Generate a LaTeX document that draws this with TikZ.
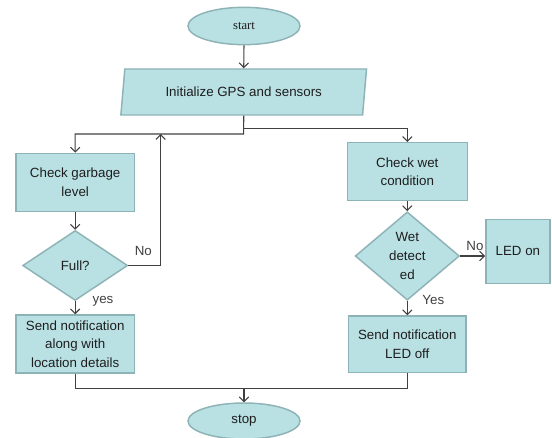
\documentclass[tikz,border=0pt]{standalone}
\usepackage{fontspec}
\setmainfont{Liberation Sans}
\newfontfamily\serifstart{Liberation Serif}
\usetikzlibrary{shapes.geometric,arrows.meta}
\definecolor{boxfill}{HTML}{B9E0E3}
\definecolor{boxline}{HTML}{8DB3B6}
\definecolor{conn}{HTML}{404040}
\definecolor{txt}{HTML}{1E1E1E}
\begin{document}
\begin{tikzpicture}[x=0.75pt,y=-0.75pt,
  every node/.style={text=txt,font=\fontsize{10}{14}\selectfont,align=center,inner sep=1pt},
  base/.style={draw=boxline,fill=boxfill,line width=1.1pt},
  procbox/.style={base,rectangle},
  termin/.style={base,ellipse,minimum width=84pt,minimum height=28pt},
  decide/.style={base,diamond},
  iobox/.style={base,trapezium,trapezium stretches=true,trapezium left angle=78,trapezium right angle=102},
  conline/.style={draw=conn,line width=0.8pt},
  arr/.style={conline,-{Straight Barb[length=3.5pt,width=7pt]}},
  lbl/.style={text=conn,font=\fontsize{10}{12}\selectfont}
]
\useasboundingbox (0,0) rectangle (552,438);

\node[termin,font=\serifstart\fontsize{9.5}{11}\selectfont] (start) at (244,26) {start};
\node[iobox,minimum width=184.5pt,minimum height=34.5pt] (init) at (243.7,92) {Initialize GPS and sensors};
\node[procbox,minimum width=88.7pt,minimum height=43.8pt] (garb) at (75.2,182.5) {Check garbage\\level};
\node[decide,minimum width=78.75pt,minimum height=52.5pt] (full) at (75.2,265.5) {Full?};
\node[procbox,minimum width=88.7pt,minimum height=43.3pt] (notif1) at (75.2,343.9) {Send notification\\along with\\location details};
\node[procbox,minimum width=90pt,minimum height=43.5pt] (wet) at (407.3,171.7) {Check wet\\condition};
\node[decide,minimum width=78.2pt,minimum height=53.8pt] (wetd) at (407.3,256) {Wet\\detect\\ed};
\node[procbox,minimum width=48.2pt,minimum height=48pt] (led) at (517.9,251.3) {LED on};
\node[procbox,minimum width=88.3pt,minimum height=42.5pt] (notif2) at (407.3,344.3) {Send notification\\LED off};
\node[termin,minimum height=27pt] (stop) at (244,421) {stop};

\coordinate (lj) at (243.7,134);
\coordinate (rj) at (243.7,128.3);
\coordinate (nl) at (160.7,134);
\coordinate (bj) at (244,388.3);

\draw[arr] (start.south) -- (init.north);
\draw[arr] (init.south) -- (lj) -| (garb.north);
\draw[arr] (rj) -| (wet.north);
\draw[arr] (garb.south) -- (full.north);
\draw[arr] (full.east) -| (nl);
\draw[arr] (full.south) -- (notif1.north);
\draw[arr] (wet.south) -- (wetd.north);
\draw[arr] (wetd.east) -- (wetd.east -| led.west);
\draw[arr] (wetd.south) -- (notif2.north);
\draw[conline] (notif1.south) |- (bj) -| (notif2.south);
\draw[arr] (bj) -- (stop.north);

\node[lbl] (lno1) at (143.3,250.7) {No};
\node[lbl] (lyes1) at (103,301.7) {yes};
\node[lbl] (lno2) at (475,246) {No};
\node[lbl] (lyes2) at (433.3,300) {Yes};
\end{tikzpicture}
\end{document}
